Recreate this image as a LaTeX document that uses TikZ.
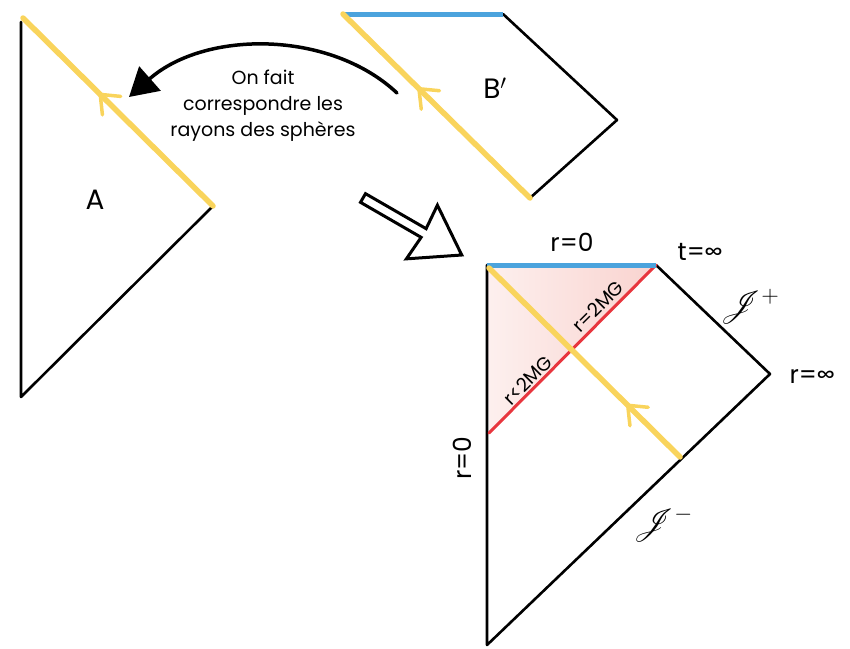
\documentclass[tikz,border=0pt]{standalone}
\usepackage{fontspec}
\setmainfont{Poppins}
\usepackage{mathrsfs}
\usetikzlibrary{arrows.meta,decorations.markings}
\definecolor{ylwc}{HTML}{F9D45C}
\definecolor{bluc}{HTML}{4BA3DD}
\definecolor{redc}{HTML}{E8363E}
\definecolor{pinkc}{HTML}{F9D3CF}
\tikzset{
  blk/.style={draw=black, line width=2.6pt, line cap=round, line join=round},
  ylw/.style={draw=ylwc, line width=5.5pt, line cap=round},
  blu/.style={draw=bluc, line width=5pt},
  redl/.style={draw=redc, line width=3pt, line cap=round},
  midarrow/.style={postaction={decorate}, decoration={markings, mark=at position #1 with {\draw[ylwc, line width=3.5pt, line cap=round, line join=round] (-15pt,13pt) -- (1pt,0pt) -- (-15pt,-13pt);}}},
  lbl/.style={font=\fontsize{25}{30}\selectfont, inner sep=0pt},
  big/.style={font=\fontsize{28}{32}\selectfont, inner sep=0pt},
  note/.style={font=\fontsize{19}{26}\selectfont, align=center, inner sep=0pt},
  scr/.style={font=\fontsize{20}{24}\selectfont, inner sep=0pt},
  diag/.style={font=\fontsize{19}{22}\selectfont, inner sep=0pt, rotate=45},
}
\begin{document}
\begin{tikzpicture}[x=1pt,y=-1pt]
\useasboundingbox (0,0) rectangle (850,648);
% ---------- diagram A ----------
\coordinate (a1) at (21,22);
\coordinate (a2) at (213,206);
\coordinate (a3) at (21,397);
\coordinate (a0) at (23,18);
\draw[blk] (a1) -- (a3) -- (a2);
\draw[ylw, midarrow=0.59] (a2) -- (a0);
\node[big] (la) at (95,200) {A};
% ---------- diagram B' ----------
\coordinate (b1) at (343,14);
\coordinate (b2) at (503,14);
\coordinate (b3) at (617,120);
\coordinate (b4) at (530,198);
\draw[blk] (b2) -- (b3) -- (b4);
\draw[blu] (b1) -- (b2);
\draw[ylw, midarrow=0.59] (b4) -- (b1);
\node[big] (lb) at (495,88) {B$'$};
% ---------- curved arrow + note ----------
\coordinate (c1) at (397,93);
\coordinate (c2) at (129,97);
\draw[line width=3.5pt, line cap=round, -{Triangle[length=28pt,width=32pt]}] (c1) .. controls (330,30) and (205,30) .. (c2);
\node[note] (note) at (263,106) {On fait\\correspondre les\\rayons des sphères};
% ---------- hollow arrow ----------
\begin{scope}[shift={(363,198)}, rotate=-30]
\draw[line width=3pt, line join=miter] (0,-5) -- (70,-5) -- (68,-31) -- (114,0) -- (68,31) -- (70,5) -- (0,5) -- cycle;
\end{scope}
% ---------- diagram C ----------
\coordinate (p1) at (487,265);
\coordinate (p2) at (656,265);
\coordinate (p3) at (770,374);
\coordinate (p4) at (487,645);
\coordinate (p5) at (489,433);
\coordinate (y1) at (489,268);
\coordinate (y2) at (680,457);
\shade[left color=pinkc!35, right color=pinkc] (p1) -- (p2) -- (p5) -- cycle;
\draw[blk] (p1) -- (p4) -- (p3) -- (p2);
\draw[redl] (p2) -- (p5);
\draw[blu] (p1) -- (p2);
\draw[ylw, midarrow=0.27] (y2) -- (y1);
\node[lbl] (r0t) at (572,242) {r=0};
\node[lbl] (tinf) at (700,252) {t=∞};
\node[lbl] (rinf) at (812,377) {r=∞};
\node[lbl, rotate=90] (r0l) at (462,458) {r=0};
\node[diag] (r2mg) at (598,306) {r=2MG};
\node[diag] (rl2mg) at (528,380) {r<2MG};
\node[scr] (jp) at (750,306) {\scalebox{1.6}{$\mathscr{J}^{+}$}};
\node[scr] (jm) at (663,524) {\scalebox{1.6}{$\mathscr{J}^{-}$}};
\end{tikzpicture}
\end{document}
